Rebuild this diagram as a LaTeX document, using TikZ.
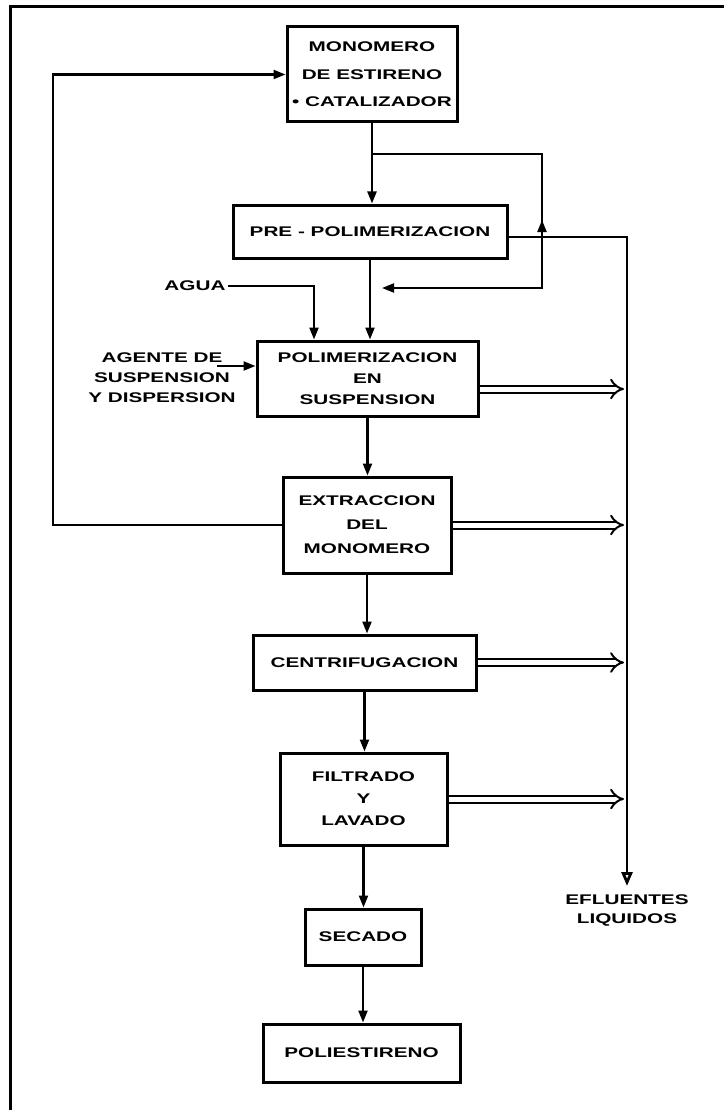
\documentclass[tikz,border=0pt]{standalone}
\usepackage{fontspec}
\usetikzlibrary{arrows.meta,calc}
\newfontfamily\labfam{Liberation Sans}[FakeStretch=1.48]
\newcommand\labfont[1]{\labfam\bfseries\fontsize{14}{#1}\selectfont}
\begin{document}
\begin{tikzpicture}[x=1pt,y=-1pt,
  box/.style={draw, line width=3pt, fill=white, align=center, inner sep=0pt},
  lbl/.style={align=center, inner sep=2pt},
  arr/.style={line width=2.2pt, -{Triangle[length=12pt,width=9pt]}},
  dbl/.style={double, double distance=5pt, line width=2pt, -{Implies}, shorten >=3pt},
  bus/.style={line width=2.8pt, -{Triangle[open,length=14pt,width=11pt,fill=white]}}]
\useasboundingbox (0,0) rectangle (724,1110);
\fill[white] (0,0) rectangle (724,1110);
\draw[line width=3pt] (10,1110) -- (10,7) -- (724,7);

% process boxes
\node[box, minimum width=170pt, minimum height=95pt, font=\labfont{27.5}] (mono) at (372,74.5) {MONOMERO\\DE ESTIRENO\\• CATALIZADOR};
\node[box, minimum width=274pt, minimum height=53pt, font=\labfont{20}] (pre) at (370,231.5) {PRE - POLIMERIZACION};
\node[box, minimum width=221pt, minimum height=75pt, font=\labfont{21}] (polim) at (367.5,378.5) {POLIMERIZACION\\EN\\SUSPENSION};
\node[box, minimum width=168pt, minimum height=96pt, font=\labfont{24}] (extr) at (367,525) {EXTRACCION\\DEL\\MONOMERO};
\node[box, minimum width=223pt, minimum height=55pt, font=\labfont{20}] (centrif) at (364.5,662.5) {CENTRIFUGACION};
\node[box, minimum width=167pt, minimum height=92pt, font=\labfont{22}] (filt) at (363.5,799) {FILTRADO\\Y\\LAVADO};
\node[box, minimum width=116pt, minimum height=56pt, font=\labfont{20}] (sec) at (363,937) {SECADO};
\node[box, minimum width=197pt, minimum height=58pt, font=\labfont{20}] (poli) at (361.5,1053) {POLIESTIRENO};

% labels
\node[lbl, font=\labfont{20}] (agua) at (195,286) {AGUA};
\node[lbl, font=\labfont{20}] (agente) at (162,378) {AGENTE DE\\SUSPENSION\\Y DISPERSION};
\node[lbl, font=\labfont{19}] (efl) at (627,910) {EFLUENTES\\LIQUIDOS};

% helper coordinates
\coordinate (br) at (372,154);
\coordinate (rc) at (542,288);
\coordinate (rt) at (382,288);
\coordinate (bt) at (627,237);
\coordinate (bb) at (627,886);
\coordinate (fb) at (53,0);
\coordinate (ax) at (314,0);
\coordinate (ag) at (217,366);
\coordinate (p1) at ($(polim.east)+(0,10.5)$);

% main flow
\draw[arr] (mono.south) -- (mono.south |- pre.north);
\draw[arr] (pre.south) -- (pre.south |- polim.north);
\draw[arr] (polim.south) -- (polim.south |- extr.north);
\draw[arr] (extr.south) -- (extr.south |- centrif.north);
\draw[arr] (centrif.south) -- (centrif.south |- filt.north);
\draw[arr] (filt.south) -- (filt.south |- sec.north);
\draw[arr] (sec.south) -- (sec.south |- poli.north);

% bypass loop
\draw[arr] (br) -| (rc) -- (rt);
\draw[arr] (rc |- bt) -- ++(0,-17);

% inputs
\draw[arr] (agua.east) -| (ax |- polim.north);
\draw[arr] (ag) -- (ag -| polim.west);

% monomer recycle
\draw[arr] (extr.west) -| (fb |- mono.west) -- (mono.west);

% effluent bus
\draw[bus] (pre.east |- bt) -- (bt) -- (bb);
\draw[dbl] (p1) -- (p1 -| bt);
\draw[dbl] (extr.east) -- (extr.east -| bt);
\draw[dbl] (centrif.east) -- (centrif.east -| bt);
\draw[dbl] (filt.east) -- (filt.east -| bt);
\end{tikzpicture}
\end{document}
